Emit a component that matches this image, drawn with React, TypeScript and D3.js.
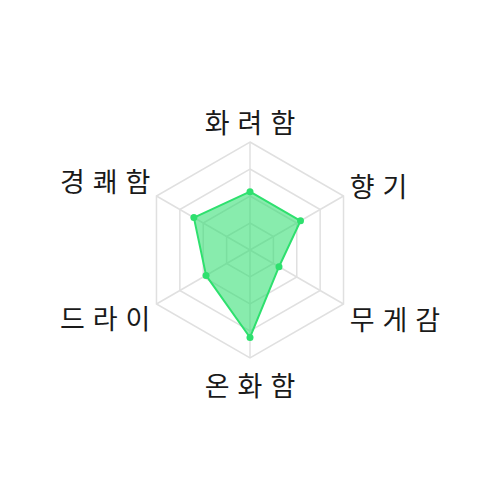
import React from "react";
import * as d3 from "d3";

const categories = ["화려함", "향기", "무게감", "온화함", "드라이", "경쾌함"];
const values = [54, 54, 31, 81, 47, 60];
const ringLevels = [25, 50, 75, 100];
const maxValue = 100;

const W = 500;
const H = 500;
const cx = 250;
const cy = 250;
const R = 108;
const FONT = "'Noto Sans CJK KR', 'Noto Sans', sans-serif";
const FS = 27;
const PITCH = 32.8;

export default function App() {
  const n = categories.length;
  const r = d3.scaleLinear().domain([0, maxValue]).range([0, R]);
  const angle = (i: number) => -Math.PI / 2 + (2 * Math.PI * i) / n;
  const pt = (i: number, v: number): [number, number] => [
    cx + r(v) * Math.cos(angle(i)),
    cy + r(v) * Math.sin(angle(i)),
  ];
  const line = d3.line<[number, number]>().curve(d3.curveLinearClosed);

  const rings = ringLevels.map((lv) => line(categories.map((_, i) => pt(i, lv))) as string);
  const dataPts = values.map((v, i) => pt(i, v));
  const area = line(dataPts) as string;

  const labels = categories.map((c, i) => {
    const a = angle(i);
    const cos = Math.cos(a);
    const sin = Math.sin(a);
    const d = R + 7;
    const x = cx + d * cos;
    const y = cy + d * sin;
    const chars = c.split("");
    const k = chars.length;
    let firstCenter: number;
    if (cos > 0.01) firstCenter = x - 1 + FS / 2;
    else if (cos < -0.01) firstCenter = x + 1 - FS / 2 - (k - 1) * PITCH;
    else firstCenter = x - ((k - 1) / 2) * PITCH;
    let baseline: number;
    if (sin < -0.99) baseline = y - 2;
    else if (sin < -0.01) baseline = y + (cos > 0 ? 4 : -1);
    else if (sin > 0.99) baseline = y + 31;
    else baseline = y + (cos > 0 ? 22 : 21);
    return {
      label: c,
      chars: chars.map((ch, j) => ({ ch, x: firstCenter + j * PITCH })),
      y: baseline,
    };
  });

  return (
    <svg
      width={W}
      height={H}
      style={{ position: "absolute", left: 0, top: 0, background: "#fff" }}
    >
      <g fill="none" stroke="#e0e0e0" strokeWidth={1.5}>
        {rings.map((d, i) => (
          <path key={i} d={d} />
        ))}
        {categories.map((_, i) => {
          const [x, y] = pt(i, maxValue);
          return <line key={i} x1={cx} y1={cy} x2={x} y2={y} />;
        })}
      </g>
      <path
        d={area}
        fill="rgba(46, 222, 110, 0.57)"
        stroke="#2ee06e"
        strokeWidth={2}
        strokeLinejoin="round"
      />
      {dataPts.map(([x, y], i) => (
        <circle key={i} cx={x} cy={y} r={3.5} fill="#2ee06e" />
      ))}
      <g fontFamily={FONT} fontSize={FS} fontWeight={400} fill="#1a1a1a" textAnchor="middle">
        {labels.map((l, i) => (
          <g key={i} aria-label={l.label}>
            {l.chars.map((c, j) => (
              <text key={j} x={c.x} y={l.y}>
                {c.ch}
              </text>
            ))}
          </g>
        ))}
      </g>
    </svg>
  );
}
